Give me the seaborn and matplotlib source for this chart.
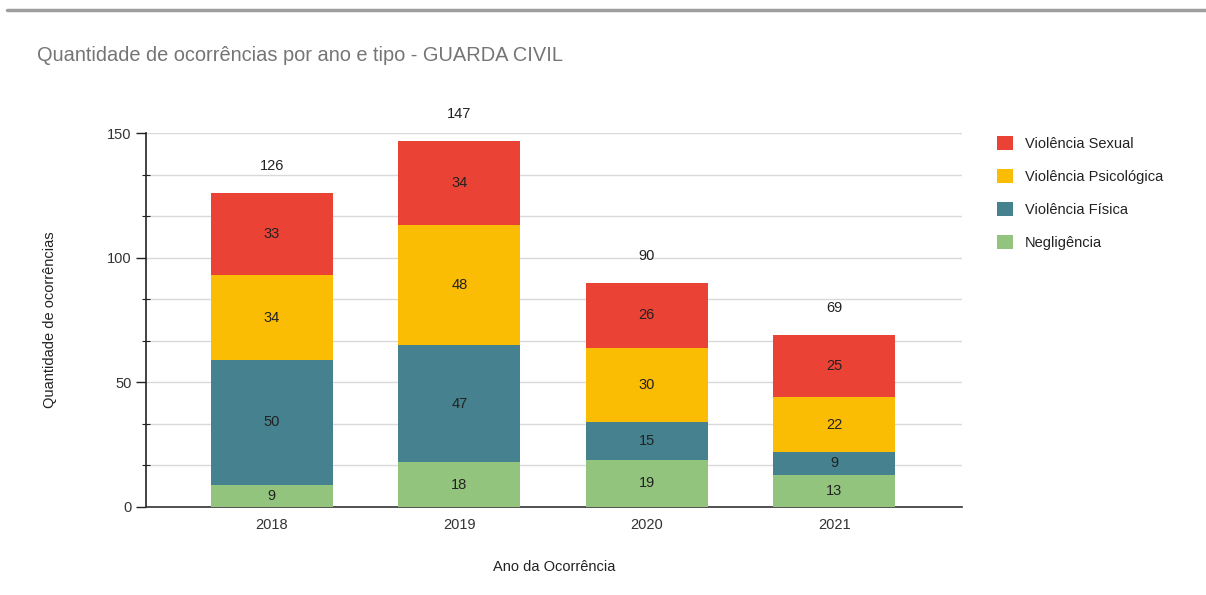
import numpy as np
import pandas as pd
import seaborn as sns
import matplotlib.pyplot as plt
from matplotlib.lines import Line2D
from matplotlib.patches import Patch
from matplotlib.ticker import MultipleLocator

sns.set_style('white')
plt.rcParams['font.family'] = ['Liberation Sans', 'DejaVu Sans']

anos = ['2018', '2019', '2020', '2021']
negligencia = [9, 18, 19, 13]
fisica = [50, 47, 15, 9]
psicologica = [34, 48, 30, 22]
sexual = [33, 34, 26, 25]

tipos = ['Negligência', 'Violência Física', 'Violência Psicológica', 'Violência Sexual']
cores = ['#93c47d', '#45818e', '#fbbc04', '#ea4335']

df = pd.DataFrame({'ano': anos, 'Negligência': negligencia,
                   'Violência Física': fisica,
                   'Violência Psicológica': psicologica,
                   'Violência Sexual': sexual})
cum = df[tipos].cumsum(axis=1)
df['total'] = cum[tipos[-1]]

fig = plt.figure(figsize=(12.06, 5.95), dpi=100)
ax = fig.add_axes([0.121, 0.148, 0.677, 0.628])

# stacked bars: draw tallest cumulative first, then smaller on top
for tipo, cor in zip(reversed(tipos), reversed(cores)):
    sns.barplot(x=df['ano'], y=cum[tipo], color=cor, width=0.65,
                saturation=1, ax=ax, zorder=3, linewidth=0)

# segment labels
for i in range(len(anos)):
    base = 0
    for tipo in tipos:
        v = df.loc[i, tipo]
        ax.text(i, base + v / 2, str(v), ha='center', va='center',
                fontsize=10.5, color='#222222', zorder=5)
        base += v
    ax.annotate(str(df.loc[i, 'total']), (i, df.loc[i, 'total']),
                xytext=(0, 19.5), textcoords='offset points',
                ha='center', va='center', fontsize=10.5, color='#222222',
                annotation_clip=False)

ax.set_xlim(-0.672, 3.683)
ax.set_ylim(0, 150)
ax.yaxis.set_major_locator(MultipleLocator(50))
ax.yaxis.set_minor_locator(MultipleLocator(50 / 3))
ax.grid(True, which='both', axis='y', color='#d9d9d9', linewidth=1, zorder=0)
ax.set_axisbelow(True)
for s in ['top', 'right']:
    ax.spines[s].set_visible(False)
ax.spines['left'].set_color('#222222')
ax.spines['bottom'].set_color('#333333')
ax.spines['left'].set_linewidth(1.2)
ax.spines['bottom'].set_linewidth(1.2)
ax.tick_params(axis='y', which='major', direction='out', length=7, width=1,
               color='#222222', labelsize=10.5, labelcolor='#333333', left=True)
ax.tick_params(axis='y', which='minor', direction='inout', length=6, width=0.8,
               color='#222222', left=True)
ax.tick_params(axis='x', length=0, labelsize=10.5, labelcolor='#333333', pad=8)

ax.set_xlabel('Ano da Ocorrência', fontsize=10.5, color='#222222', labelpad=20)
ax.set_ylabel('Quantidade de ocorrências', fontsize=10.5, color='#222222', labelpad=36)

fig.text(0.031, 0.906, 'Quantidade de ocorrências por ano e tipo - GUARDA CIVIL',
         fontsize=14.4, color='#757575', va='center')

fig.add_artist(Line2D([0.006, 1.0], [0.983, 0.983], color='#9e9e9e', linewidth=2.5,
                      transform=fig.transFigure))

handles = [Patch(facecolor=c, edgecolor='none') for c in reversed(cores)]
fig.legend(handles, list(reversed(tipos)), loc='upper left',
           bbox_to_anchor=(0.816, 0.794), frameon=False, fontsize=10.5,
           labelcolor='#222222', handlelength=1.1, handleheight=1.1,
           handletextpad=0.8, labelspacing=1.25)

fig.savefig('out.png', dpi=100)
